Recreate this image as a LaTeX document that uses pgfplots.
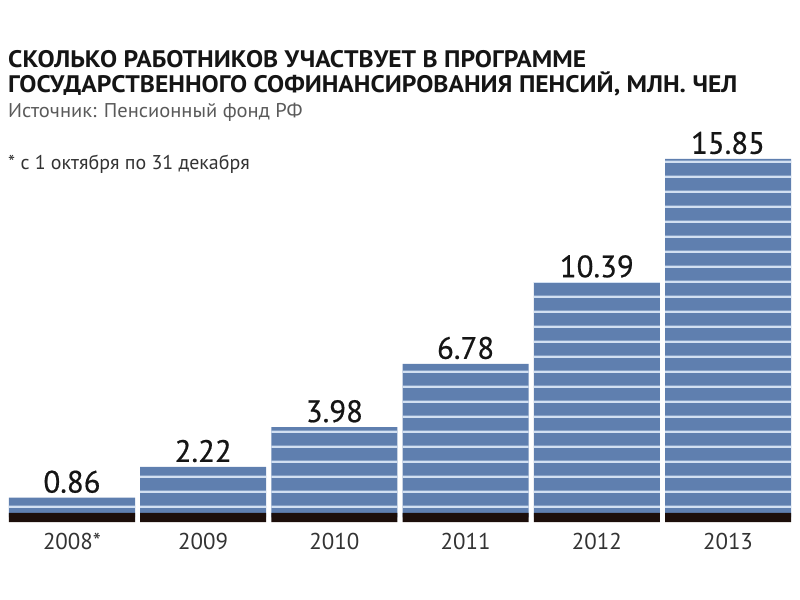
\documentclass[border=0pt]{standalone}
\usepackage{fontspec}
\setmainfont{PT Sans}
\newfontfamily\titlefont[FakeStretch=1.07]{PT Sans}
\newfontfamily\srcfont[FakeStretch=1.03]{PT Sans}
\newfontfamily\valfont[FakeBold=0.6]{PT Sans}
\usepackage{pgfplots}
\pgfplotsset{compat=1.18}
\usetikzlibrary{patterns.meta}
\definecolor{barblue}{HTML}{5F7FAF}
\definecolor{stripe}{HTML}{D2E0F2}
\definecolor{baseblack}{HTML}{1C0E0A}
\definecolor{txt}{HTML}{151515}
\definecolor{srcgray}{HTML}{5A5A5A}
\definecolor{yeargray}{HTML}{333333}
\pgfdeclarepattern{
  name=barstripes,
  type=colored,
  bottom left={\pgfpointorigin},
  top right={\pgfpoint{200bp}{14.6bp}},
  tile size={\pgfpoint{200bp}{14.6bp}},
  code={
    \pgfsetfillcolor{stripe}
    \pgfpathrectangle{\pgfpoint{0bp}{4.2bp}}{\pgfpoint{200bp}{2.4bp}}
    \pgfusepath{fill}
  }
}
\begin{document}
\begin{tikzpicture}
\useasboundingbox (0,0) rectangle (800bp,600bp);
\begin{axis}[
  at={(6.4bp,78bp)}, anchor=south west,
  scale only axis,
  width=787.2bp, height=366.6bp,
  xmin=-0.5, xmax=5.5,
  ymin=-0.22, ymax=16,
  ybar, bar width=126bp, bar shift=0pt,
  axis line style={draw=none},
  ytick=\empty,
  xtick={0,1,2,3,4,5},
  xticklabels={2008*,2009,2010,2011,2012,2013},
  major tick length=0pt,
  xticklabel style={font=\fontsize{23}{23}\selectfont, text=yeargray, anchor=base, yshift=-27bp},
  clip=false,
]
\addplot[draw=none, fill=barblue, postaction={pattern=barstripes},
  point meta=explicit symbolic,
  nodes near coords,
  every node near coord/.append style={font=\valfont\fontsize{31}{31}\selectfont, text=txt, anchor=base, yshift=5bp, inner sep=0pt}]
  coordinates {(0,0.86) [0.86] (1,2.22) [2.22] (2,3.98) [3.98] (3,6.78) [6.78] (4,10.39) [10.39] (5,15.85) [15.85]};
\addplot[draw=none, fill=baseblack]
  coordinates {(0,-0.22) (1,-0.22) (2,-0.22) (3,-0.22) (4,-0.22) (5,-0.22)};
\addplot[draw=none, fill=baseblack]
  coordinates {(0,0.18) (1,0.18) (2,0.18) (3,0.18) (4,0.18) (5,0.18)};
\end{axis}
\node[anchor=base west, inner sep=0pt, text=txt, font=\titlefont\bfseries\fontsize{24}{24}\selectfont] at (8bp,532bp) {СКОЛЬКО РАБОТНИКОВ УЧАСТВУЕТ В ПРОГРАММЕ};
\node[anchor=base west, inner sep=0pt, text=txt, font=\titlefont\bfseries\fontsize{24}{24}\selectfont] at (8bp,507bp) {ГОСУДАРСТВЕННОГО СОФИНАНСИРОВАНИЯ ПЕНСИЙ, МЛН. ЧЕЛ};
\node[anchor=base west, inner sep=0pt, text=srcgray, font=\srcfont\fontsize{20}{20}\selectfont] at (8bp,482bp) {Источник: Пенсионный фонд РФ};
\node[anchor=base west, inner sep=0pt, text=yeargray, font=\fontsize{20}{20}\selectfont] at (8bp,430bp) {* с 1 октября по 31 декабря};
\end{tikzpicture}
\end{document}
